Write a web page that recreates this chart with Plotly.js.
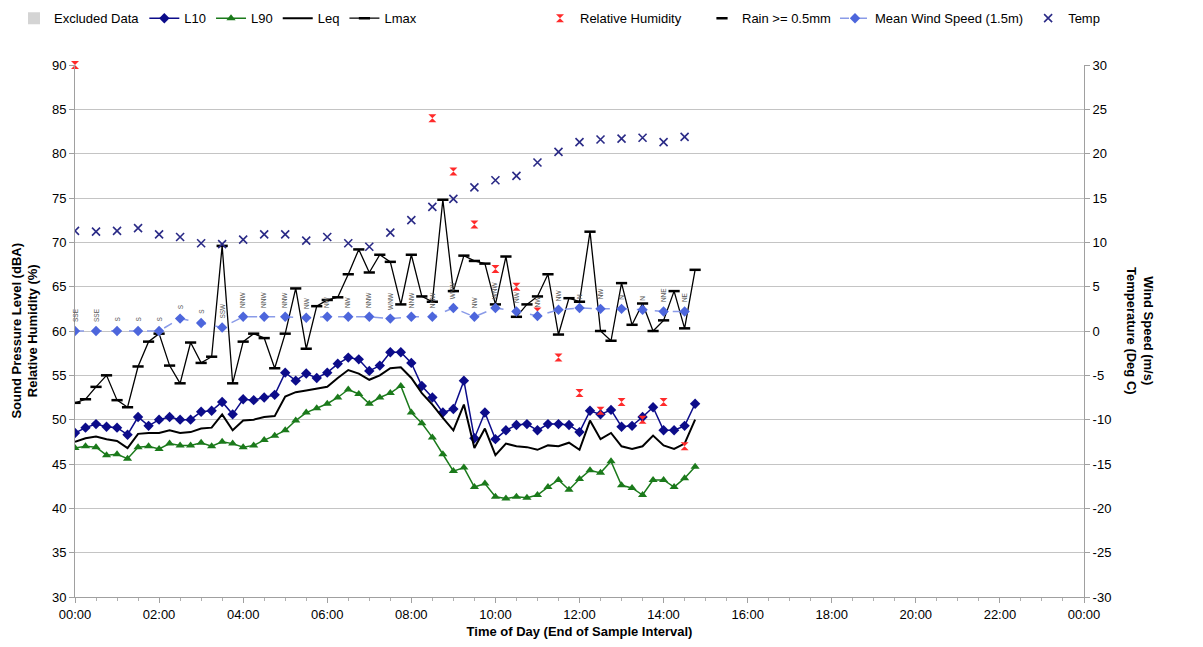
<!DOCTYPE html>
<html>
<head>
<meta charset="utf-8">
<script src="https://cdn.plot.ly/plotly-3.0.1.min.js"></script>
<style>
  html, body { margin: 0; padding: 0; background: #ffffff; }
  #chart { width: 1203px; height: 647px; }
</style>
</head>
<body>
<div id="chart"></div>
<script>
// 15-minute sample intervals (end of interval)
const times15 = [
  "00:00","00:15","00:30","00:45","01:00","01:15","01:30","01:45",
  "02:00","02:15","02:30","02:45","03:00","03:15","03:30","03:45",
  "04:00","04:15","04:30","04:45","05:00","05:15","05:30","05:45",
  "06:00","06:15","06:30","06:45","07:00","07:15","07:30","07:45",
  "08:00","08:15","08:30","08:45","09:00","09:15","09:30","09:45",
  "10:00","10:15","10:30","10:45","11:00","11:15","11:30","11:45",
  "12:00","12:15","12:30","12:45","13:00","13:15","13:30","13:45",
  "14:00","14:15","14:30","14:45"
];

// Sound levels, dBA
const L10 = [48.5,49.1,49.5,49.2,49.1,48.3,50.3,49.3,50.0,50.3,50.0,50.0,50.9,51.0,52.0,50.6,
             52.3,52.2,52.5,52.8,55.3,54.4,55.2,54.7,55.3,56.3,57.0,56.8,55.5,56.1,57.6,57.6,
             56.4,53.8,52.5,50.8,51.2,54.4,47.9,50.8,47.8,48.8,49.4,49.5,48.8,49.5,49.5,49.4,
             48.6,51.0,50.6,51.1,49.2,49.3,50.3,51.4,48.8,48.8,49.3,51.8];
const L90 = [46.8,47.0,46.9,46.0,46.1,45.6,46.9,47.0,46.7,47.3,47.1,47.1,47.4,47.0,47.5,47.3,
             46.9,47.1,47.7,48.2,48.8,49.9,50.8,51.3,51.8,52.5,53.4,52.9,51.8,52.5,53.0,53.8,
             50.8,49.6,48.0,46.1,44.2,44.6,42.4,42.8,41.3,41.1,41.3,41.2,41.5,42.4,43.2,42.1,
             43.3,44.3,44.0,45.3,42.6,42.3,41.5,43.2,43.2,42.4,43.4,44.7];
const Leq = [47.5,47.9,48.1,47.8,47.6,46.8,48.4,48.5,48.5,48.8,48.5,48.6,49.0,49.1,50.6,48.8,
             49.9,50.0,50.3,50.4,52.6,53.1,53.3,53.5,53.7,54.7,55.6,55.2,54.5,55.0,55.8,55.9,
             54.7,53.0,51.7,50.2,48.8,51.7,46.8,49.0,46.0,47.3,47.0,46.9,46.6,47.1,47.0,47.4,
             46.6,49.9,47.8,48.5,47.0,46.7,47.0,48.2,47.1,46.7,47.3,50.0];
const Lmax = [51.9,52.3,53.7,55.0,52.2,51.4,56.0,58.8,59.7,56.1,54.1,58.7,56.4,57.1,69.6,54.1,
              58.8,59.7,59.2,55.8,59.7,64.8,58.0,62.8,63.5,63.8,66.4,69.2,66.6,68.6,67.8,63.0,
              68.6,63.9,63.3,74.8,64.5,68.5,67.9,67.6,63.0,68.4,61.6,63.0,63.9,66.4,59.6,63.7,
              63.3,71.2,60.0,58.9,65.4,60.7,63.1,60.0,61.2,64.5,60.3,66.9];

// Weather observations, 30-minute intervals
const times30 = [
  "00:00","00:30","01:00","01:30","02:00","02:30","03:00","03:30",
  "04:00","04:30","05:00","05:30","06:00","06:30","07:00","07:30",
  "08:00","08:30","09:00","09:30","10:00","10:30","11:00","11:30",
  "12:00","12:30","13:00","13:30","14:00","14:30"
];
const humidity = [90,null,null,null,null,null,null,null,
                  null,null,null,null,null,null,null,null,
                  null,84,78,72,67,65,62.2,57,
                  53,51,52,50,52,47];
const rain = [null,null,null,null,null,null,null,null,null,null,
              null,null,null,null,null,null,null,null,null,null,
              null,null,null,null,null,null,null,null,null,null];
const windSpeed = [0,0,0,0,0,1.4,0.9,0.4,1.6,1.6,1.6,1.5,1.6,1.6,1.6,
                   1.4,1.6,1.6,2.6,1.6,2.6,2.2,1.7,2.4,2.6,2.5,2.5,2.4,2.2,2.2];
const windDir = ["SSE","SSE","S","S","S","S","S","SSW","NNW","NNW","NNW","NW","NW","NW","NNW",
                 "WNW","NNW","NNW","WNW","NW","WNW","NW","NW","NW","N","NW","N","N","NNE","NE"];
const temperature = [11.3,11.2,11.3,11.6,10.9,10.6,9.9,9.8,10.3,10.9,10.9,10.2,10.6,9.9,9.5,
                     11.1,12.5,14.0,14.9,16.2,17.0,17.5,19.0,20.2,21.3,21.6,21.7,21.8,21.3,21.9];

// Axis tick labels
const leftTicks = [30,35,40,45,50,55,60,65,70,75,80,85,90];
const rightTicks = [-30,-25,-20,-15,-10,-5,0,5,10,15,20,25,30];

const day = "2024-01-01 ";
const x15 = times15.map(t => day + t);
const x30 = times30.map(t => day + t);

const traces = [
  { name: "Excluded Data", type: "bar", x: [x15[0]], y: [null],
    marker: { color: "#d4d4d4" }, hoverinfo: "skip", legend: "legend" },
  { name: "L10", x: x15, y: L10, mode: "lines+markers", legend: "legend",
    line: { color: "#0c0c8a", width: 1.5 },
    marker: { symbol: "diamond", size: 8, color: "#0c0c8a" } },
  { name: "L90", x: x15, y: L90, mode: "lines+markers", legend: "legend",
    line: { color: "#1b7a1b", width: 1.5 },
    marker: { symbol: "triangle-up", size: 8, color: "#1b7a1b" } },
  { name: "Leq", x: x15, y: Leq, mode: "lines", legend: "legend",
    line: { color: "#000000", width: 2 } },
  { name: "Lmax", x: x15, y: Lmax, mode: "lines+markers", legend: "legend",
    line: { color: "#000000", width: 1.3 },
    marker: { symbol: "line-ew-open", size: 8, color: "#000000",
              line: { color: "#000000", width: 2.5 } } },
  { name: "Relative Humidity", x: x30, y: humidity, mode: "markers", cliponaxis: false,
    legend: "legend2",
    marker: { symbol: "hourglass", size: 8, color: "#ff2a2a" } },
  { name: "Rain >= 0.5mm", x: x30, y: rain, yaxis: "y2", mode: "markers", legend: "legend3",
    marker: { symbol: "line-ew-open", size: 8, color: "#000000",
              line: { color: "#000000", width: 2.5 } } },
  { name: "Mean Wind Speed (1.5m)", x: x30, y: windSpeed, yaxis: "y2", mode: "lines+markers",
    legend: "legend4",
    line: { color: "#8a9be8", width: 1.5, dash: "dash" },
    marker: { symbol: "diamond", size: 8, color: "#4d66dc" } },
  { name: "Temp", x: x30, y: temperature, yaxis: "y2", mode: "markers", legend: "legend4",
    marker: { symbol: "x-thin-open", size: 8, color: "#2a2a86",
              line: { color: "#2a2a86", width: 1.6 } } }
];

// Wind direction labels sit just above each wind speed point
const dirLabels = windDir.map((d, i) => ({
  x: x30[i], y: windSpeed[i], xref: "x", yref: "y2",
  text: d, showarrow: false, textangle: -90,
  yanchor: "bottom", yshift: 7,
  font: { family: "Liberation Sans, Arial, sans-serif", size: 6.5, color: "#555555" }
}));

const titleFont = { family: "Liberation Sans, Arial, sans-serif", size: 13, color: "#000000" };

function legendAt(px) {
  return {
    orientation: "h", xref: "container", yref: "container",
    x: px / 1203, y: 0.995, xanchor: "left", yanchor: "top",
    font: { size: 13 }, traceorder: "normal", bgcolor: "rgba(0,0,0,0)"
  };
}

const layout = {
  width: 1203, height: 647,
  margin: { l: 75, r: 119, t: 65, b: 50 },
  paper_bgcolor: "#ffffff", plot_bgcolor: "#ffffff",
  font: { family: "Liberation Sans, Arial, sans-serif", size: 13, color: "#000000" },
  showlegend: true,
  legend: legendAt(14),
  legend2: legendAt(540),
  legend3: legendAt(702),
  legend4: legendAt(835),
  xaxis: {
    type: "date",
    range: [day + "00:00", "2024-01-02 00:00"],
    tickformat: "%H:%M", dtick: 7200000,
    tick0: day + "00:00",
    showgrid: false, zeroline: false,
    showline: true, linecolor: "#a0a0a0", linewidth: 1,
    ticks: "outside", ticklen: 5, tickcolor: "#a0a0a0",
    minor: { dtick: 1800000, ticks: "outside", ticklen: 3, tickcolor: "#b0b0b0" },
    tickfont: { size: 13 },
    title: { text: "<b>Time of Day (End of Sample Interval)</b>", font: titleFont, standoff: 6 }
  },
  yaxis: {
    range: [30, 90], tickvals: leftTicks, ticktext: leftTicks.map(String),
    showgrid: true, gridcolor: "#c4c4c4", gridwidth: 1,
    zeroline: false, showline: true, linecolor: "#a0a0a0",
    ticks: "outside", ticklen: 5, tickcolor: "#a0a0a0",
    tickfont: { size: 13 }
  },
  yaxis2: {
    range: [-30, 30], tickvals: rightTicks, ticktext: rightTicks.map(String),
    overlaying: "y", side: "right",
    showgrid: false, zeroline: false, showline: true, linecolor: "#a0a0a0",
    ticks: "outside", ticklen: 5, tickcolor: "#a0a0a0",
    tickfont: { size: 13 }
  },
  annotations: dirLabels.concat([
    { xref: "paper", yref: "paper", x: -0.05, y: 0.5, xanchor: "center", yanchor: "middle",
      text: "<b>Sound Pressure Level (dBA)</b><br><b>Relative Humidity (%)</b>",
      textangle: -90, showarrow: false, font: titleFont },
    { xref: "paper", yref: "paper", x: 1.0555, y: 0.5, xanchor: "center", yanchor: "middle",
      text: "<b>Wind Speed (m/s)</b><br><b>Temperature (Deg C)</b>",
      textangle: 90, showarrow: false, font: titleFont }
  ])
};

Plotly.newPlot("chart", traces, layout, { displayModeBar: false, responsive: false });
</script>
</body>
</html>
